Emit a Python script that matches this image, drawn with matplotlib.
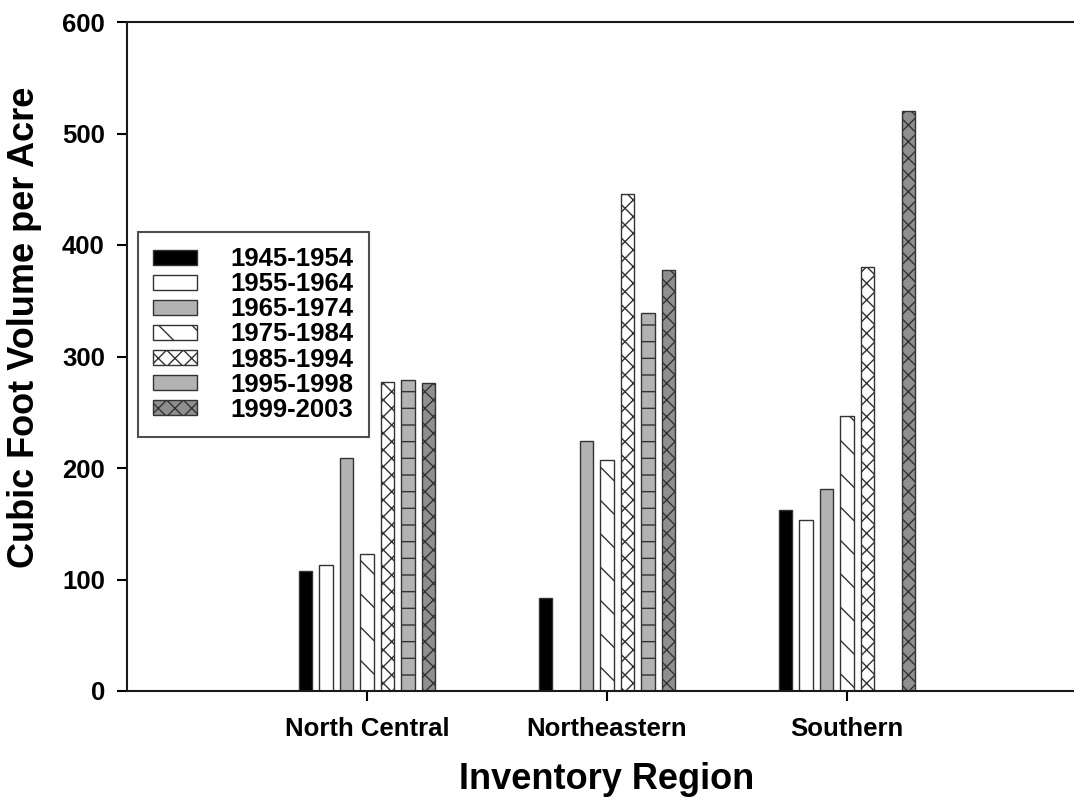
import numpy as np
import matplotlib
matplotlib.use('Agg')
import matplotlib.pyplot as plt

plt.rcParams['font.family'] = ['Liberation Sans', 'DejaVu Sans']
plt.rcParams['font.weight'] = 'bold'
plt.rcParams['hatch.linewidth'] = 1.0

# data
regions = ['North Central', 'Northeastern', 'Southern']
periods = ['1945-1954', '1955-1964', '1965-1974', '1975-1984',
           '1985-1994', '1995-1998', '1999-2003']
vol_1945 = [108, 83, 162]
vol_1955 = [113, None, 153]
vol_1965 = [209, 224, 181]
vol_1975 = [123, 207, 247]
vol_1985 = [277, 446, 380]
vol_1995 = [279, 339, None]
vol_1999 = [276, 378, 520]
series = [vol_1945, vol_1955, vol_1965, vol_1975, vol_1985, vol_1995, vol_1999]

# look of each period (fill, hatch)
styles = [('black', ''), ('white', ''), ('#b3b3b3', ''), ('white', '\\'),
          ('white', 'xx'), ('#b3b3b3', '-'), ('#8f8f8f', 'xx')]

fig = plt.figure(figsize=(10.74, 7.99), dpi=100)
ax = fig.add_axes([127/1074, 108/799, 960/1074, 669/799])

x = np.arange(1, len(regions) + 1)
step = 0.0854
width = 0.058
handles = []
for j, (vals, (fc, hatch)) in enumerate(zip(series, styles)):
    xs = [xi + (j - 3) * step for xi, v in zip(x, vals) if v is not None]
    hs = [v for v in vals if v is not None]
    b = ax.bar(xs, hs, width=width, color=fc, edgecolor='#333333',
               linewidth=1.0, hatch=hatch, label=periods[j])
    handles.append(b)

ax.set_xlim(0, 4)
ax.set_ylim(0, 600)
ax.set_yticks(range(0, 601, 100))
ax.set_xticks(x)
ax.set_xticklabels(regions)
ax.spines['right'].set_visible(False)
for s in ['left', 'bottom', 'top']:
    ax.spines[s].set_linewidth(1.5)
    ax.spines[s].set_color('#1a1a1a')
ax.tick_params(direction='out', length=7, width=1.5, labelsize=18.5, pad=9)
ax.tick_params(axis='x', pad=12)

ax.set_ylabel('Cubic Foot Volume per Acre', fontsize=26, fontweight='bold')
ax.yaxis.set_label_coords(-0.0885, 0.543)
ax.set_xlabel('Inventory Region', fontsize=26, fontweight='bold')
ax.xaxis.set_label_coords(0.5, -0.106)

leg = ax.legend(handles=handles, loc='upper left',
                bbox_to_anchor=(138/1074, 1 - 232/799), bbox_transform=fig.transFigure,
                borderaxespad=0, fontsize=18.5, fancybox=False, handlelength=1.7,
                handleheight=0.5, handletextpad=1.3, labelspacing=0.04,
                borderpad=0.6)
leg.get_frame().set_edgecolor('#222222')
leg.get_frame().set_linewidth(1.5)

fig.savefig('out.png', dpi=100)
